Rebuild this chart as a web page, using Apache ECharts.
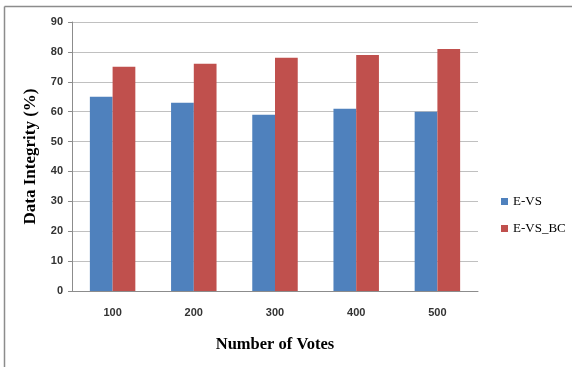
<!DOCTYPE html>
<html>
<head>
<meta charset="utf-8">
<script src="https://cdn.jsdelivr.net/npm/echarts@6/dist/echarts.min.js"></script>
<style>
  html, body { margin: 0; padding: 0; background: #fff; }
  #chart { width: 572px; height: 367px; }
</style>
</head>
<body>
<div id="chart"></div>
<script>
// Vote counts on the category axis
const votes = ['100', '200', '300', '400', '500'];
// Data integrity (%) per scheme
const eVs = [65, 63, 59, 61, 60];
const eVsBc = [75, 76, 78, 79, 81];
// Value axis range
const yMin = 0, yMax = 90, yStep = 10;

const serif = '"Liberation Serif", "DejaVu Serif", serif';
const sans = '"Liberation Sans", "DejaVu Sans", sans-serif';

const chart = echarts.init(document.getElementById('chart'), null, { renderer: 'canvas' });
chart.setOption({
  animation: false,
  backgroundColor: '#ffffff',
  graphic: [
    { type: 'line', shape: { x1: 4.5, y1: 6.5, x2: 572, y2: 6.5 }, style: { stroke: '#8c8c8c', lineWidth: 1.5 } },
    { type: 'line', shape: { x1: 4.5, y1: 6.5, x2: 4.5, y2: 367 }, style: { stroke: '#8c8c8c', lineWidth: 1.5 } }
  ],
  grid: { left: 72, right: 94, top: 22, bottom: 76, containLabel: false },
  legend: {
    orient: 'vertical',
    left: 496,
    top: 190,
    itemWidth: 7,
    itemHeight: 7,
    itemGap: 14,
    icon: 'rect',
    textStyle: { fontFamily: serif, fontSize: 13, color: '#000' },
    data: ['E-VS', 'E-VS_BC']
  },
  xAxis: {
    type: 'category',
    data: votes,
    name: 'Number of Votes',
    nameLocation: 'middle',
    nameGap: 45,
    nameTextStyle: { fontFamily: serif, fontSize: 16.5, fontWeight: 'bold', color: '#000' },
    axisLine: { lineStyle: { color: '#8c8c8c' } },
    axisTick: { show: false },
    axisLabel: { margin: 16, fontFamily: sans, fontSize: 11, fontWeight: 'bold', color: '#333' }
  },
  yAxis: {
    type: 'value',
    min: yMin,
    max: yMax,
    interval: yStep,
    name: 'Data Integrity (%)',
    nameLocation: 'middle',
    nameGap: 33,
    nameRotate: 90,
    nameTextStyle: { fontFamily: serif, fontSize: 17, fontWeight: 'bold', color: '#000' },
    axisLine: { show: true, lineStyle: { color: '#8c8c8c' } },
    axisTick: { show: true, length: 4, lineStyle: { color: '#8c8c8c' } },
    splitLine: { lineStyle: { color: '#c0c0c0' } },
    axisLabel: { margin: 9, fontFamily: sans, fontSize: 11, fontWeight: 'bold', color: '#333' }
  },
  series: [
    {
      name: 'E-VS', type: 'bar', data: eVs,
      barWidth: '28%', barGap: '0%',
      itemStyle: { color: '#4f81bd' }
    },
    {
      name: 'E-VS_BC', type: 'bar', data: eVsBc,
      barWidth: '28%', barGap: '0%',
      itemStyle: { color: '#c0504d' }
    }
  ]
});
</script>
</body>
</html>
